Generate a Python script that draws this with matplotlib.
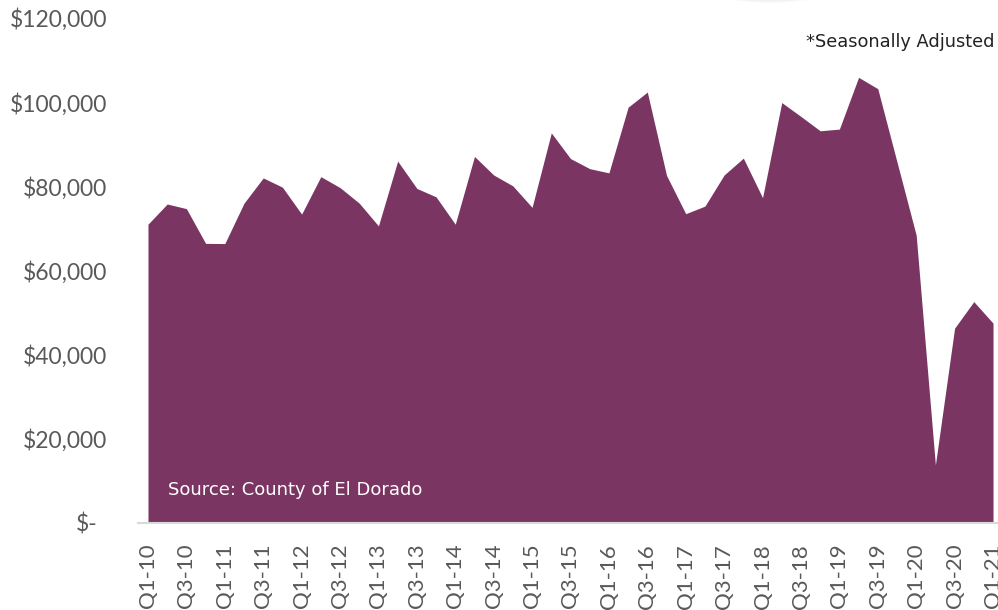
import matplotlib
matplotlib.use("Agg")
import matplotlib.pyplot as plt
from matplotlib.patches import Ellipse
from matplotlib.ticker import FuncFormatter

# quarterly values, Q1-10 .. Q1-21
quarters = ["Q%d-%02d" % (q, y) for y in range(10, 21) for q in range(1, 5)] + ["Q1-21"]
values = [71000, 75800, 74700, 66450,
          66400, 76000, 82000, 79800,
          73400, 82300, 79700, 76000,
          70600, 86000, 79500, 77500,
          71000, 87100, 82700, 80100,
          75000, 92700, 86600, 84200,
          83200, 98800, 102400, 82600,
          73500, 75300, 82700, 86700,
          77300, 99900, 96600, 93200,
          93600, 105900, 103200, 85800,
          68400, 13800, 46300, 52600,
          47500]
tick_labels = quarters[::2]

fill_color = "#7B3563"
text_grey = "#595959"

fig = plt.figure(figsize=(9.98, 6.10), dpi=100)
ax = fig.add_axes([138 / 998, 1 - 523 / 610, 860 / 998, 505 / 610])

x = list(range(len(values)))
ax.fill_between(x, values, 0, color=fill_color, linewidth=0)

ax.set_xlim(-0.52, 44.26)
ax.set_ylim(0, 120000)
ax.set_yticks(range(0, 120001, 20000))
ax.yaxis.set_major_formatter(FuncFormatter(lambda v, p: "$-" if v == 0 else "${:,.0f}".format(v)))
ax.set_xticks(x[::2])
ax.set_xticklabels(tick_labels, rotation=90)

for s in ["top", "right", "left"]:
    ax.spines[s].set_visible(False)
ax.spines["bottom"].set_color("#D9D9D9")
ax.spines["bottom"].set_linewidth(1.5)
ax.tick_params(axis="both", length=0, colors=text_grey)
ax.tick_params(axis="y", labelsize=16.5, pad=22)
ax.tick_params(axis="x", labelsize=16, pad=15)
for lab in ax.get_yticklabels() + ax.get_xticklabels():
    lab.set_family("Lato")
# "$-" sits a bit left of the column in the original
ax.get_yticklabels()[0].set_x(-0.012)

ax.text(168 / 998, 1 - 490 / 610, "Source: County of El Dorado", transform=fig.transFigure,
        color="white", fontsize=13, family="DejaVu Sans", va="center", ha="left")
ax.text(995 / 998, 1 - 42 / 610, "*Seasonally Adjusted", transform=fig.transFigure,
        color="#222222", fontsize=12.8, family="DejaVu Sans", va="center", ha="right")

# faint shadow of something at the top edge
for i, a in enumerate([0.02, 0.02, 0.025, 0.03]):
    w = 120 - i * 15
    fig.patches.append(Ellipse((770 / 998, 1 - (-8 + i) / 610), w / 998, (22 - i * 3) / 610,
                               transform=fig.transFigure, color="grey", alpha=a, lw=0))

fig.savefig("out.png", dpi=100)
